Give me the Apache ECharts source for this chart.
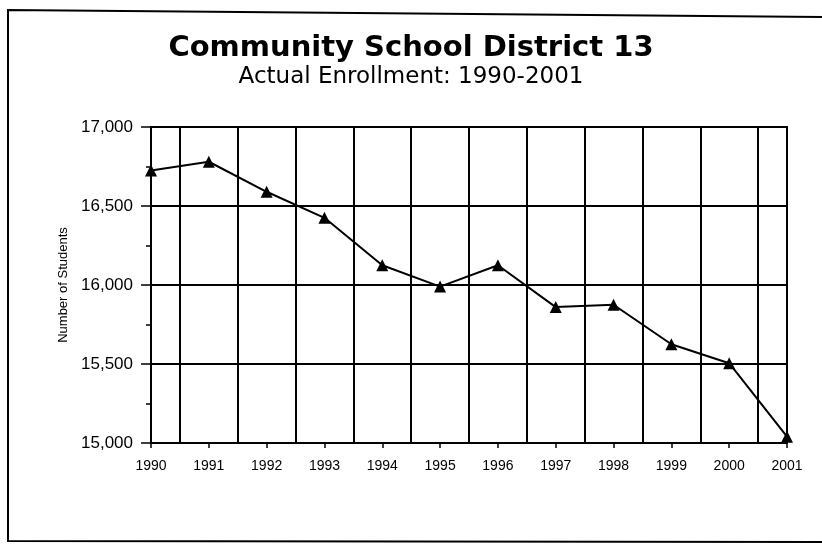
<!DOCTYPE html>
<html>
<head>
<meta charset="utf-8">
<script src="https://cdn.jsdelivr.net/npm/echarts@6/dist/echarts.min.js"></script>
<style>
html,body{margin:0;padding:0;background:#fff;}
#chart{width:822px;height:548px;}
</style>
</head>
<body>
<div id="chart"></div>
<script>
const titleText = 'Community School District 13';
const subtitleText = 'Actual Enrollment: 1990-2001';
const yAxisName = 'Number of Students';
const years = [1990, 1991, 1992, 1993, 1994, 1995, 1996, 1997, 1998, 1999, 2000, 2001];
const enrollment = [16725, 16780, 16590, 16425, 16125, 15990, 16125, 15860, 15875, 15625, 15505, 15040];
const yMin = 15000, yMax = 17000, yStep = 500;

const chart = echarts.init(document.getElementById('chart'));
const font = 'Liberation Sans, Arial, sans-serif';
const wideFont = 'DejaVu Sans, sans-serif';
chart.setOption({
  animation: false,
  backgroundColor: '#fff',
  title: [
    { text: titleText, left: 'center', top: 29,
      textStyle: { fontFamily: wideFont, fontSize: 29, fontWeight: 'bold', color: '#000' } },
    { text: subtitleText, left: 'center', top: 61,
      textStyle: { fontFamily: wideFont, fontSize: 23, fontWeight: 'normal', color: '#000' } }
  ],
  graphic: [
    { type: 'polyline', shape: { points: [[830, 17], [8, 10], [8, 541], [830, 542]] },
      style: { stroke: '#000', lineWidth: 2, fill: null } }
  ],
  grid: { left: 151, right: 35, top: 127, bottom: 105, show: true, borderColor: '#000', borderWidth: 2 },
  xAxis: {
    type: 'value', min: years[0], max: years[years.length - 1], interval: 1,
    axisLine: { show: true, lineStyle: { color: '#000', width: 2 } },
    axisTick: { show: true, length: 5, lineStyle: { color: '#000', width: 1.5 } },
    minorTick: { show: false, splitNumber: 2 },
    minorSplitLine: { show: true, lineStyle: { color: '#000', width: 2 } },
    splitLine: { show: false },
    axisLabel: { formatter: v => String(v), margin: 16, fontFamily: font, fontSize: 14, color: '#000' }
  },
  yAxis: {
    type: 'value', min: yMin, max: yMax, interval: yStep,
    name: yAxisName, nameLocation: 'middle', nameGap: 80, nameRotate: 90,
    nameTextStyle: { fontFamily: font, fontSize: 13, color: '#000' },
    axisLine: { show: true, lineStyle: { color: '#000', width: 2 } },
    axisTick: { show: true, length: 10, lineStyle: { color: '#000', width: 1.5 } },
    minorTick: { show: true, splitNumber: 2, length: 5, lineStyle: { color: '#000', width: 1.5 } },
    splitLine: { show: true, lineStyle: { color: '#000', width: 2 } },
    axisLabel: { margin: 18, fontFamily: font, fontSize: 17, color: '#000',
      formatter: v => v.toLocaleString('en-US') }
  },
  series: [{
    type: 'line',
    data: years.map((y, i) => [y, enrollment[i]]),
    symbol: 'triangle', symbolSize: 12,
    lineStyle: { color: '#000', width: 2 },
    itemStyle: { color: '#000' }
  }]
});
</script>
</body>
</html>
